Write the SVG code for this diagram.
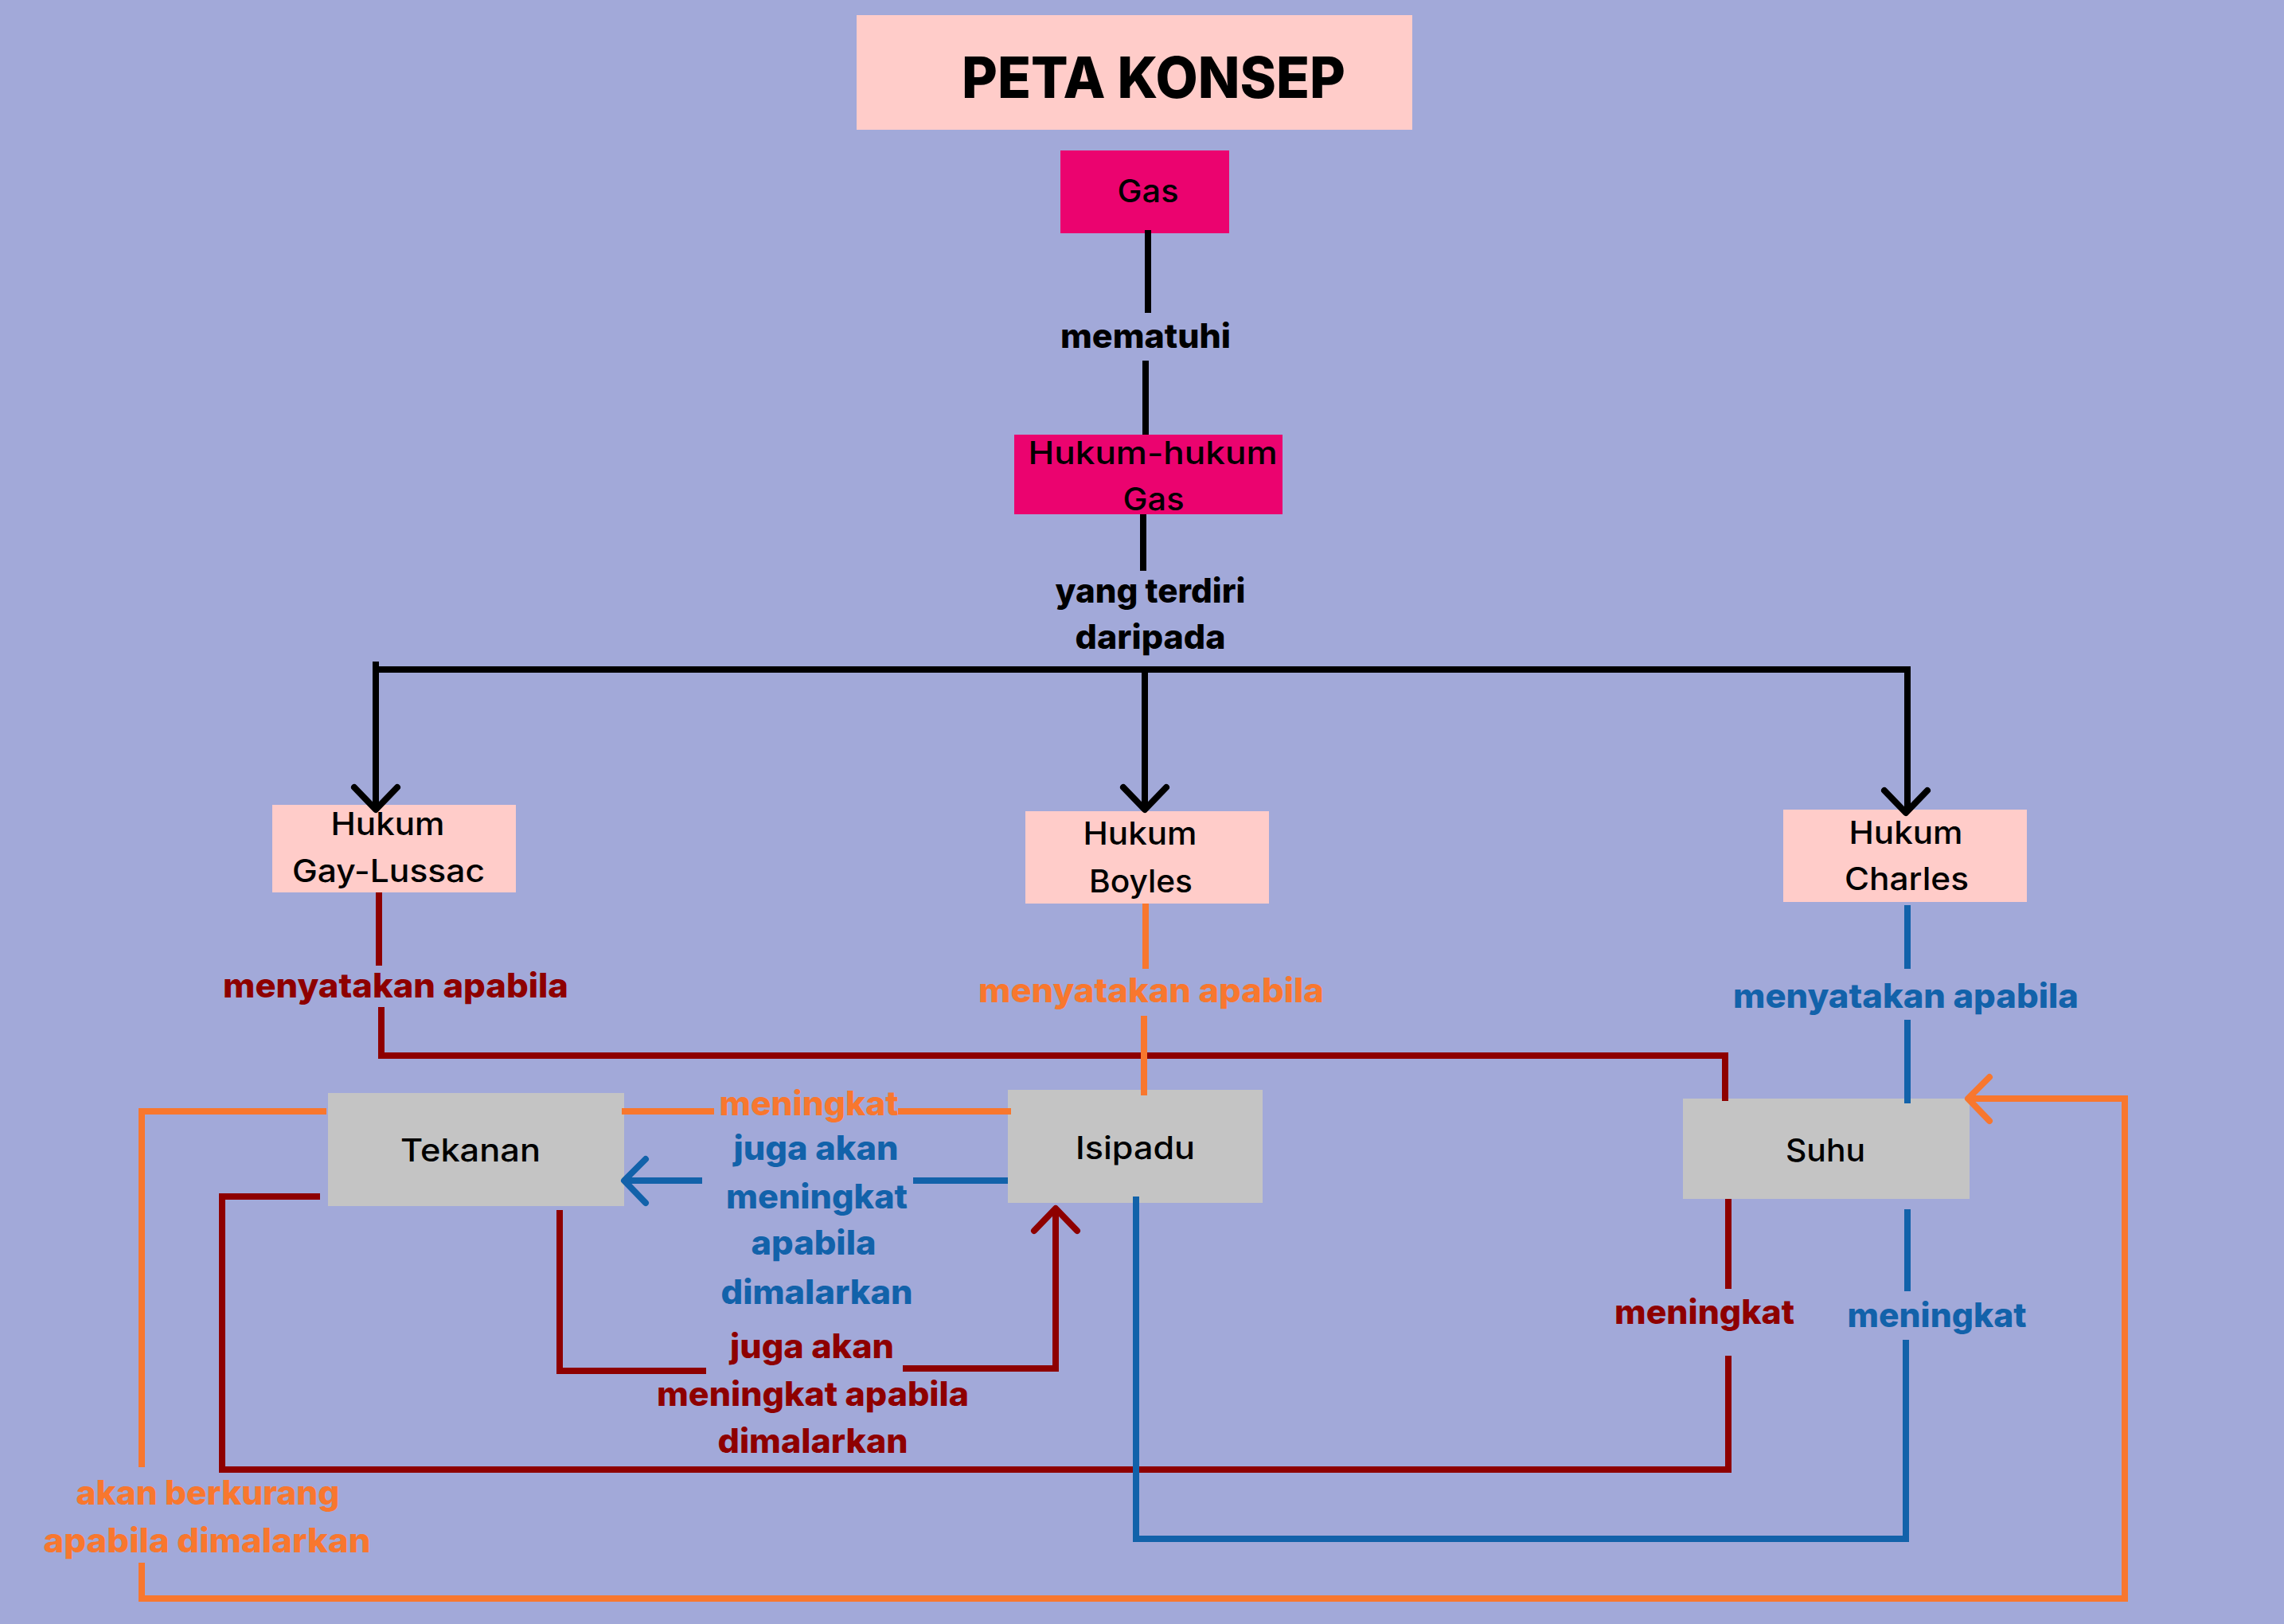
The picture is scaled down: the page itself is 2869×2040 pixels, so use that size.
<svg xmlns="http://www.w3.org/2000/svg" width="2869" height="2040" viewBox="0 0 2869 2040">
<style>
.bg{fill:#A2A9D9}
.title{fill:#FFCCC9}
.hot{fill:#EB036F}
.law{fill:#FFCCC9}
.var{fill:#C4C4C4}
.nt{font-family:Inter,"Noto Sans","Liberation Sans",sans-serif;font-weight:500;font-size:39px;fill:#000;text-anchor:middle}
.tt{font-family:Inter,"Noto Sans","Liberation Sans",sans-serif;font-weight:800;font-size:72px;fill:#000;text-anchor:middle}
.lb{font-family:Inter,"Noto Sans","Liberation Sans",sans-serif;font-weight:800;font-size:42px;text-anchor:middle}
.k{fill:#000}.r{fill:#8E0000}.o{fill:#F8772E}.b{fill:#1262AA}
.c{fill:none;stroke-width:8}
.ck{stroke:#000}.cr{stroke:#8E0000}.co{stroke:#F8772E}.cb{stroke:#1262AA}
.ah{fill:none;stroke-width:8;stroke-linecap:round;stroke-linejoin:round}
</style>
<rect class="bg" x="0" y="0" width="2869" height="2040"/>

<g id="title">
<rect class="title" x="1076" y="19" width="698" height="144"/>
<text class="tt" x="1449" y="123" textLength="482" lengthAdjust="spacingAndGlyphs">PETA KONSEP</text>
</g>
<g id="gas">
<rect class="hot" x="1332" y="189" width="212" height="104"/>
<text class="nt" x="1442" y="254" textLength="77" lengthAdjust="spacingAndGlyphs">Gas</text>
</g>
<g id="hukum-hukum-gas">
<rect class="hot" x="1274" y="546" width="337" height="100"/>
<text class="nt" x="1448" y="583" textLength="313" lengthAdjust="spacingAndGlyphs">Hukum-hukum</text>
<text class="nt" x="1449" y="641" textLength="77" lengthAdjust="spacingAndGlyphs">Gas</text>
</g>
<g id="hukum-gay-lussac">
<rect class="law" x="342" y="1011" width="306" height="110"/>
<text class="nt" x="487" y="1049" textLength="143" lengthAdjust="spacingAndGlyphs">Hukum</text>
<text class="nt" x="488" y="1108" textLength="242" lengthAdjust="spacingAndGlyphs">Gay-Lussac</text>
</g>
<g id="hukum-boyles">
<rect class="law" x="1288" y="1019" width="306" height="116"/>
<text class="nt" x="1432" y="1061" textLength="143" lengthAdjust="spacingAndGlyphs">Hukum</text>
<text class="nt" x="1433" y="1121" textLength="130" lengthAdjust="spacingAndGlyphs">Boyles</text>
</g>
<g id="hukum-charles">
<rect class="law" x="2240" y="1017" width="306" height="116"/>
<text class="nt" x="2394" y="1060" textLength="143" lengthAdjust="spacingAndGlyphs">Hukum</text>
<text class="nt" x="2395" y="1118" textLength="156" lengthAdjust="spacingAndGlyphs">Charles</text>
</g>
<g id="tekanan">
<rect class="var" x="412" y="1373" width="372" height="142"/>
<text class="nt" x="591" y="1459" textLength="176" lengthAdjust="spacingAndGlyphs">Tekanan</text>
</g>
<g id="isipadu">
<rect class="var" x="1266" y="1369" width="320" height="142"/>
<text class="nt" x="1426" y="1456" textLength="150" lengthAdjust="spacingAndGlyphs">Isipadu</text>
</g>
<g id="suhu">
<rect class="var" x="2114" y="1380" width="360" height="126"/>
<text class="nt" x="2293" y="1459" textLength="100" lengthAdjust="spacingAndGlyphs">Suhu</text>
</g>

<g id="connectors">
<path class="c ck" d="M1442,289V393M1439,453V546M1436,646V717"/>
<path class="c ck" d="M472,831V1015M468,841H2400M2396,841V1019M1438,841V1015"/>
<path class="ah ck" d="M445,989L472,1017L499,989M1411,989L1438,1017L1465,989M2367,993L2394,1021L2421,993"/>

<path class="c cr" d="M476,1121V1213M479,1265V1326H2167V1383"/>
<path class="c cr" d="M703,1520V1722H887M1134,1719H1326V1520"/>
<path class="ah cr" d="M1299,1546L1326,1518L1353,1546"/>
<path class="c cr" d="M402,1503H279V1846H2171V1703M2171,1619V1506"/>

<path class="c co" d="M1439,1135V1217M1437,1276V1376"/>
<path class="c co" d="M781,1396H897M1128,1396H1270"/>
<path class="c co" d="M410,1396H178V1843M178,1963V2008H2669V1380H2474"/>
<path class="ah co" d="M2499,1353L2472,1380L2499,1408"/>

<path class="c cb" d="M2396,1137V1217M2396,1281V1386"/>
<path class="c cb" d="M1266,1483H1147M882,1483H784"/>
<path class="ah cb" d="M811,1456L784,1483L811,1511"/>
<path class="c cb" d="M1427,1503V1933H2394V1683M2396,1622V1519"/>
</g>

<g id="labels">
<text class="lb k" x="1439" y="437" textLength="214" lengthAdjust="spacingAndGlyphs">mematuhi</text>
<text class="lb k" x="1445" y="757" textLength="239" lengthAdjust="spacingAndGlyphs">yang terdiri</text>
<text class="lb k" x="1445" y="815" textLength="189" lengthAdjust="spacingAndGlyphs">daripada</text>

<text class="lb r" x="497" y="1253" textLength="434" lengthAdjust="spacingAndGlyphs">menyatakan apabila</text>
<text class="lb o" x="1446" y="1259" textLength="434" lengthAdjust="spacingAndGlyphs">menyatakan apabila</text>
<text class="lb b" x="2394" y="1266" textLength="434" lengthAdjust="spacingAndGlyphs">menyatakan apabila</text>

<text class="lb o" x="1016" y="1401" textLength="225" lengthAdjust="spacingAndGlyphs">meningkat</text>
<text class="lb b" x="1025" y="1457" textLength="207" lengthAdjust="spacingAndGlyphs">juga akan</text>
<text class="lb b" x="1026" y="1518" textLength="228" lengthAdjust="spacingAndGlyphs">meningkat</text>
<text class="lb b" x="1022" y="1576" textLength="157" lengthAdjust="spacingAndGlyphs">apabila</text>
<text class="lb b" x="1026" y="1638" textLength="241" lengthAdjust="spacingAndGlyphs">dimalarkan</text>

<text class="lb r" x="1020" y="1706" textLength="206" lengthAdjust="spacingAndGlyphs">juga akan</text>
<text class="lb r" x="1021" y="1766" textLength="392" lengthAdjust="spacingAndGlyphs">meningkat apabila</text>
<text class="lb r" x="1021" y="1825" textLength="239" lengthAdjust="spacingAndGlyphs">dimalarkan</text>

<text class="lb r" x="2141" y="1663" textLength="226" lengthAdjust="spacingAndGlyphs">meningkat</text>
<text class="lb b" x="2433" y="1667" textLength="225" lengthAdjust="spacingAndGlyphs">meningkat</text>

<text class="lb o" x="261" y="1890" textLength="331" lengthAdjust="spacingAndGlyphs">akan berkurang</text>
<text class="lb o" x="260" y="1950" textLength="411" lengthAdjust="spacingAndGlyphs">apabila dimalarkan</text>
</g>
</svg>
